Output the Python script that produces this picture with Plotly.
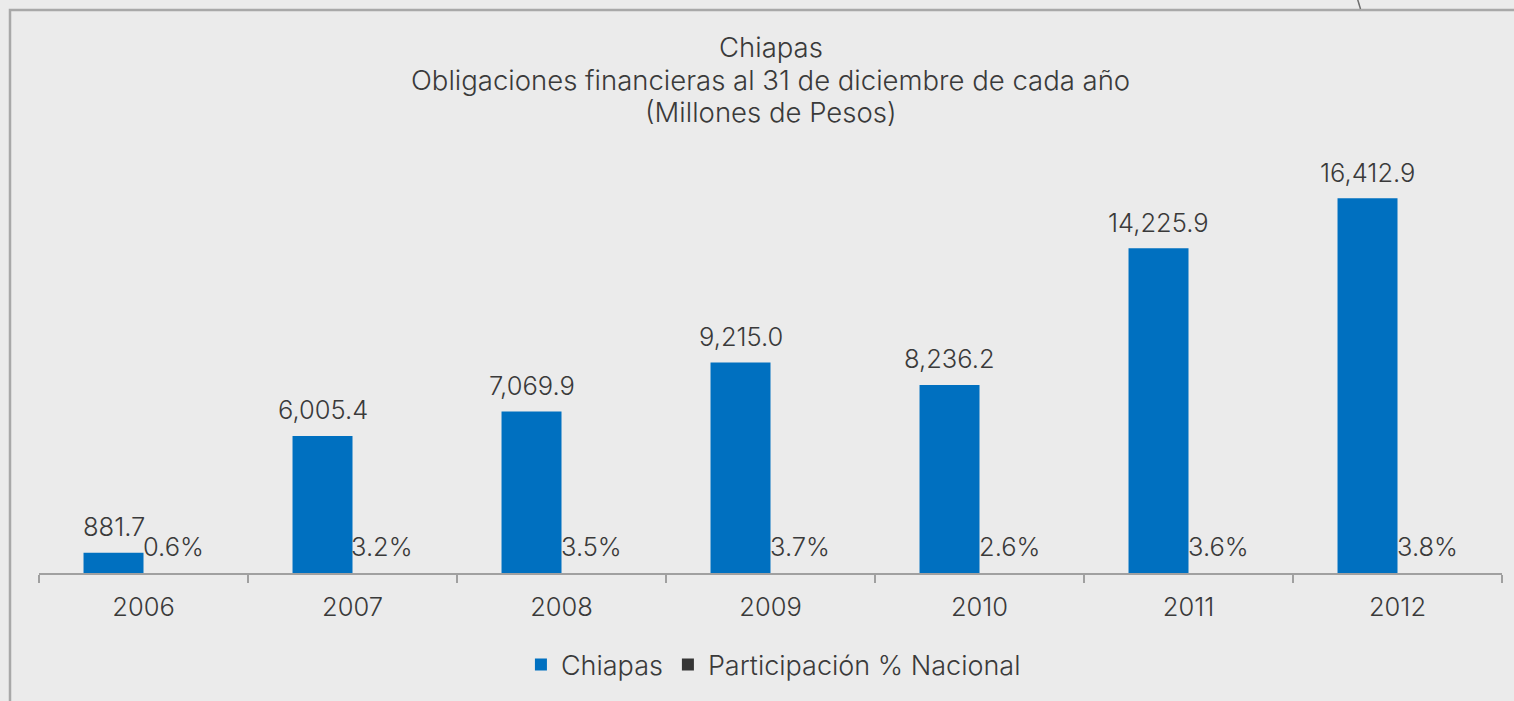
import plotly.graph_objects as go

# Chiapas: financial obligations at Dec 31 of each year (millions of pesos)
years = ["2006", "2007", "2008", "2009", "2010", "2011", "2012"]
obligaciones = [881.7, 6005.4, 7069.9, 9215.0, 8236.2, 14225.9, 16412.9]
participacion = [0.6, 3.2, 3.5, 3.7, 2.6, 3.6, 3.8]

series_names = ["Chiapas", "Participación % Nacional"]
title_lines = ["Chiapas", "Obligaciones financieras al 31 de diciembre de cada año", "(Millones de Pesos)"]

BG = "#ebebeb"
BLUE = "#0070c0"
DARK = "rgba(51,51,51,0.99)"
TEXT = "#3a3a3a"
AXIS = "#a0a0a0"
FONT = "Inter"

W, H = 1514, 701
L, R, T, B = 39, 12, 162, 128
plot_w = W - L - R
plot_h = H - T - B
YMAX = 18000
BARGAP = 0.426
n = len(years)
half_bar = plot_w / n * (1 - BARGAP) / 4

fig = go.Figure()
fig.add_trace(go.Bar(
    x=years, y=obligaciones, name=series_names[0],
    marker=dict(color=BLUE, line=dict(width=0)),
))
fig.add_trace(go.Bar(
    x=years, y=participacion, name=series_names[1],
    marker=dict(color=DARK, line=dict(width=0)),
))

label_font = dict(family=FONT, size=25.5, color=TEXT, weight=300)
annotations = []
# category axis positions are given by index
for i, v in enumerate(obligaciones):
    annotations.append(dict(
        x=i, y=v, xref="x", yref="y", text=f"{v:,.1f}", showarrow=False,
        xshift=-half_bar, yshift=26, yanchor="middle", font=label_font,
    ))
for i, p in enumerate(participacion):
    annotations.append(dict(
        x=i, y=p, xref="x", yref="y", text=f"{p:.1f}%", showarrow=False,
        xshift=half_bar, yshift=26, yanchor="middle", font=label_font,
    ))

def px_x(px):
    return (px - L) / plot_w

def px_y(py):
    return (H - B - py) / plot_h

# chart title, one annotation per line
for line, ypx in zip(title_lines, [47, 80, 112]):
    annotations.append(dict(
        x=0.5, y=px_y(ypx), xref="paper", yref="paper",
        text=line, showarrow=False, yanchor="middle",
        font=dict(family=FONT, size=27.5, color=TEXT, weight=300),
    ))

shapes = [
    # frame around the chart
    dict(type="rect", xref="paper", yref="paper",
         x0=px_x(10), x1=px_x(1600), y0=px_y(800), y1=px_y(10),
         line=dict(color="#a8a8a8", width=2.5), fillcolor="rgba(0,0,0,0)", layer="below"),
    # connector stroke at the top edge
    dict(type="line", xref="paper", yref="paper",
         x0=px_x(1357.5), y0=px_y(-1), x1=px_x(1360.5), y1=px_y(9),
         line=dict(color="#6e6e6e", width=1.5)),
]

fig.update_layout(
    width=W, height=H,
    paper_bgcolor=BG, plot_bgcolor=BG,
    margin=dict(l=L, r=R, t=T, b=B, pad=0),
    barmode="group", bargap=BARGAP, bargroupgap=0,
    showlegend=True,
    legend=dict(
        orientation="h", x=0.502, xanchor="center",
        y=px_y(665), yanchor="middle",
        font=dict(family=FONT, size=27, color=TEXT, weight=300),
        itemsizing="constant", traceorder="normal",
        bgcolor="rgba(0,0,0,0)", itemwidth=30,
    ),
    xaxis=dict(
        type="category", categoryorder="array", categoryarray=years,
        range=[-0.5, n - 0.5],
        showgrid=False, zeroline=False,
        showline=True, linecolor=AXIS, linewidth=2,
        ticks="outside", tickson="boundaries", ticklen=8, tickwidth=2, tickcolor=AXIS,
        tickangle=0, ticklabelstandoff=10,
        tickfont=dict(family=FONT, size=25.5, color=TEXT, weight=300),
    ),
    yaxis=dict(visible=False, range=[0, YMAX], fixedrange=True),
    annotations=annotations,
    shapes=shapes,
)

fig.write_html("out.html")
